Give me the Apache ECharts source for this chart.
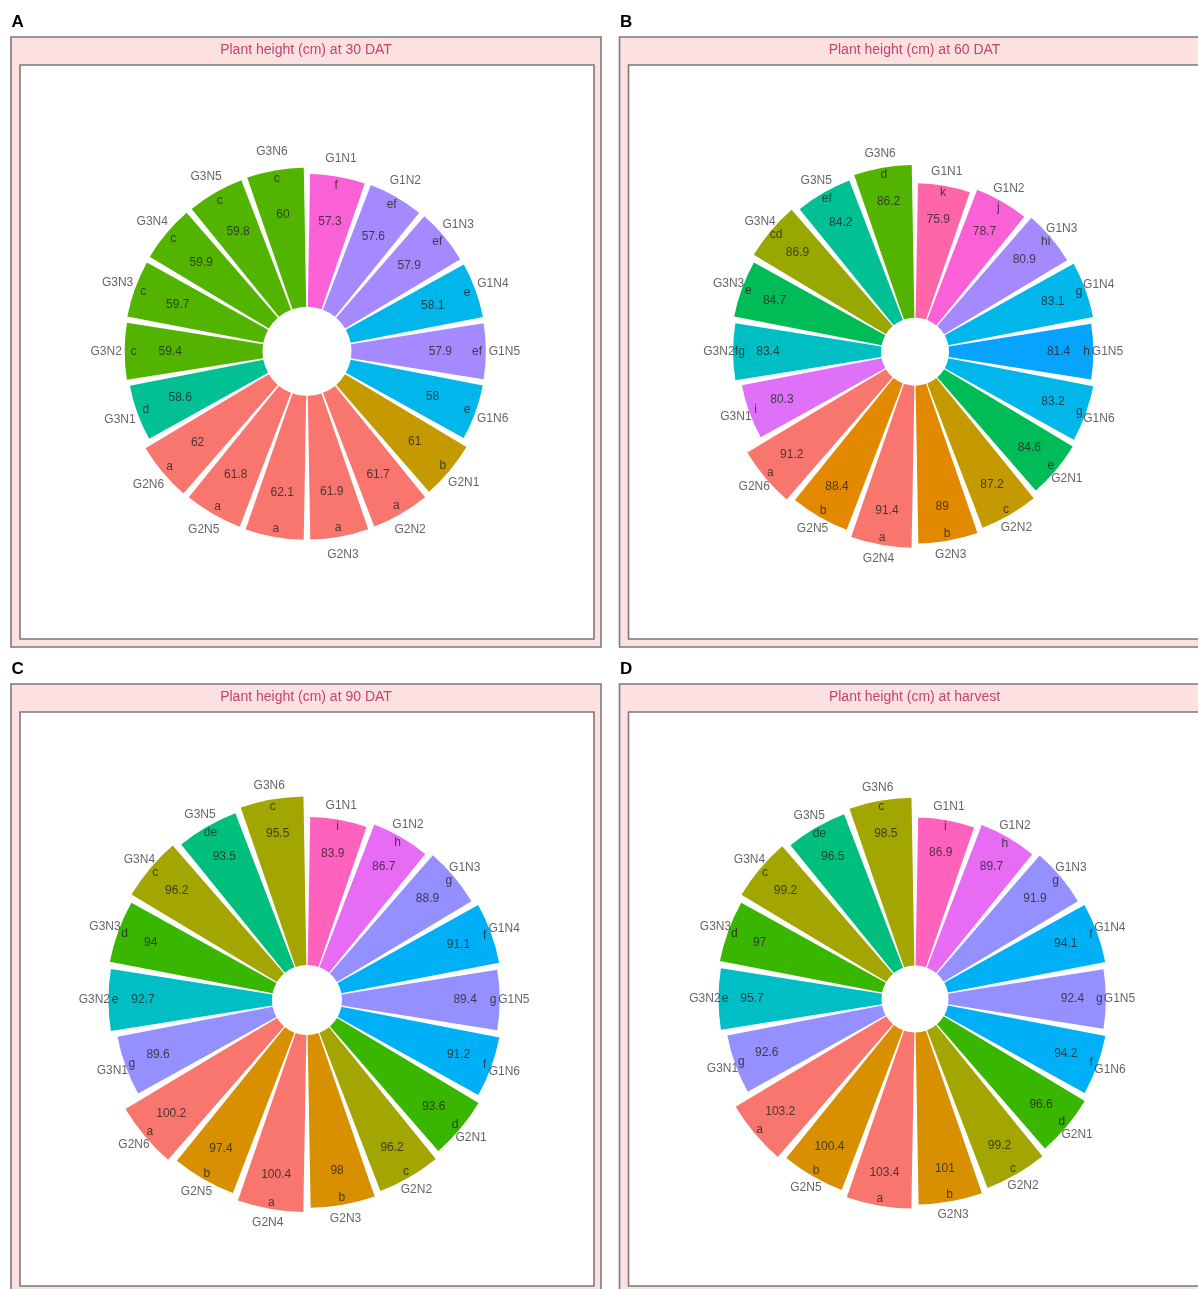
<!DOCTYPE html>
<html>
<head>
<meta charset="utf-8">
<script src="https://cdn.jsdelivr.net/npm/echarts@6/dist/echarts.min.js"></script>
<style>
html,body{margin:0;padding:0;background:#ffffff;}
#chart{width:1198px;height:1289px;}
</style>
</head>
<body>
<div id="chart"></div>
<script>
// ---------------- DATA ----------------
const categories = ['G1N1','G1N2','G1N3','G1N4','G1N5','G1N6',
                    'G2N1','G2N2','G2N3','G2N4','G2N5','G2N6',
                    'G3N1','G3N2','G3N3','G3N4','G3N5','G3N6'];

const height30 = [57.3,57.6,57.9,58.1,57.9,58,61,61.7,61.9,62.1,61.8,62,58.6,59.4,59.7,59.9,59.8,60];
const letters30 = ['f','ef','ef','e','ef','e','b','a','a','a','a','a','d','c','c','c','c','c'];

const height60 = [75.9,78.7,80.9,83.1,81.4,83.2,84.6,87.2,89,91.4,88.4,91.2,80.3,83.4,84.7,86.9,84.2,86.2];
const letters60 = ['k','j','hi','g','h','g','e','c','b','a','b','a','i','fg','e','cd','ef','d'];

const height90 = [83.9,86.7,88.9,91.1,89.4,91.2,93.6,96.2,98,100.4,97.4,100.2,89.6,92.7,94,96.2,93.5,95.5];
const letters90 = ['i','h','g','f','g','f','d','c','b','a','b','a','g','e','d','c','de','c'];

const heightHarvest = [86.9,89.7,91.9,94.1,92.4,94.2,96.6,99.2,101,103.4,100.4,103.2,92.6,95.7,97,99.2,96.5,98.5];
const lettersHarvest = ['i','h','g','f','g','f','d','c','b','a','b','a','g','e','d','c','de','c'];

const panelTitles = ['Plant height (cm) at 30 DAT','Plant height (cm) at 60 DAT',
                     'Plant height (cm) at 90 DAT','Plant height (cm) at harvest'];
const panelTags = ['A','B','C','D'];

// ---------------- STYLE / LAYOUT ----------------
// ggplot2 default hue palettes (by number of levels)
const HUE = {
  7:  ['#F8766D','#C49A00','#53B400','#00C094','#00B6EB','#A58AFF','#FB61D7'],
  10: ['#F8766D','#D89000','#A3A500','#39B600','#00BF7D','#00BFC4','#00B0F6','#9590FF','#E76BF3','#FF62BC'],
  14: ['#F8766D','#E38900','#C49A00','#99A800','#53B400','#00BC56','#00C094','#00BFC4','#00B6EB','#06A4FF','#A58AFF','#DF70F8','#FB61D7','#FF66A8']
};
const FONT = "'Liberation Sans', Arial, Helvetica, sans-serif";

const layout = [
  {box:[11,37],    center:[307,351.3], hole:44.5, pxPerUnit:2.32,  max:70},
  {box:[619.5,37], center:[915,351.7], hole:34,   pxPerUnit:1.773, max:100},
  {box:[11,684],   center:[307,1000],  hole:35,   pxPerUnit:1.764, max:110},
  {box:[619.5,684],center:[915,999],   hole:33.5, pxPerUnit:1.703, max:110}
];
const OUTER_W = 590, OUTER_H = 610, INNER_DX = 9, INNER_DY = 28, INNER_W = 574, INNER_H = 574;
// radial text offsets, in data units (like ggplot geom_text y = value + offset)
const OFF_NAME = 8, OFF_LETTER = -3.8, OFF_VALUE = -19.6;

const panelValues = [height30, height60, height90, heightHarvest];
const panelLetters = [letters30, letters60, letters90, lettersHarvest];

const polar = [], angleAxis = [], radiusAxis = [], series = [], graphics = [];

layout.forEach((L, p) => {
  const vals = panelValues[p], lets = panelLetters[p];
  const levels = Array.from(new Set(lets)).sort();
  const pal = HUE[levels.length];
  const colorOf = l => pal[levels.indexOf(l)];

  polar.push({center: L.center, radius: [L.hole, L.hole + L.pxPerUnit * L.max]});
  angleAxis.push({
    polarIndex: p, type: 'category', data: categories, startAngle: 90, clockwise: true,
    boundaryGap: true, axisLine: {show: false}, axisTick: {show: false},
    axisLabel: {show: false}, splitLine: {show: false}, splitArea: {show: false}
  });
  radiusAxis.push({
    polarIndex: p, type: 'value', min: 0, max: L.max,
    axisLine: {show: false}, axisTick: {show: false}, axisLabel: {show: false},
    splitLine: {show: false}, splitArea: {show: false}
  });
  series.push({
    type: 'bar', coordinateSystem: 'polar', polarIndex: p, barCategoryGap: '10%',
    silent: true,
    data: vals.map((v, i) => ({value: v, itemStyle: {color: colorOf(lets[i])}}))
  });
  const textSeries = (offset, texts, color) => ({
    type: 'scatter', coordinateSystem: 'polar', polarIndex: p, silent: true,
    symbolSize: 1, itemStyle: {color: 'rgba(0,0,0,0)'}, z: 5,
    data: vals.map((v, i) => [v + offset, i]),
    label: {
      show: true, position: 'inside', color: color, fontFamily: FONT, fontSize: 12,
      formatter: prm => texts[prm.dataIndex]
    }
  });
  series.push(textSeries(OFF_VALUE, vals.map(v => String(v)), '#262626'));
  series.push(textSeries(OFF_LETTER, lets, '#262626'));
  series.push(textSeries(OFF_NAME, categories, '#3d3d3d'));

  const [bx, by] = L.box;
  graphics.push({
    type: 'rect', z: 0, shape: {x: bx, y: by, width: OUTER_W, height: OUTER_H},
    style: {fill: '#FDE1E1', stroke: '#7a7a7a', lineWidth: 1.6}
  });
  graphics.push({
    type: 'rect', z: 0, shape: {x: bx + INNER_DX, y: by + INNER_DY, width: INNER_W, height: INNER_H},
    style: {fill: '#ffffff', stroke: '#7a7a7a', lineWidth: 1.6}
  });
  graphics.push({
    type: 'text', z: 1, x: bx + OUTER_W / 2, y: by + 13.5,
    style: {text: panelTitles[p], fill: '#C4426C', font: '14px ' + FONT,
            textAlign: 'center', textVerticalAlign: 'middle'}
  });
  graphics.push({
    type: 'text', z: 1, x: bx + 0.5, y: by - 14.5,
    style: {text: panelTags[p], fill: '#000000', font: 'bold 17px ' + FONT,
            textAlign: 'left', textVerticalAlign: 'middle'}
  });
});

const chart = echarts.init(document.getElementById('chart'), null, {renderer: 'canvas'});
chart.setOption({
  animation: false,
  backgroundColor: '#ffffff',
  polar: polar,
  angleAxis: angleAxis,
  radiusAxis: radiusAxis,
  graphic: {elements: graphics},
  series: series
});
</script>
</body>
</html>
